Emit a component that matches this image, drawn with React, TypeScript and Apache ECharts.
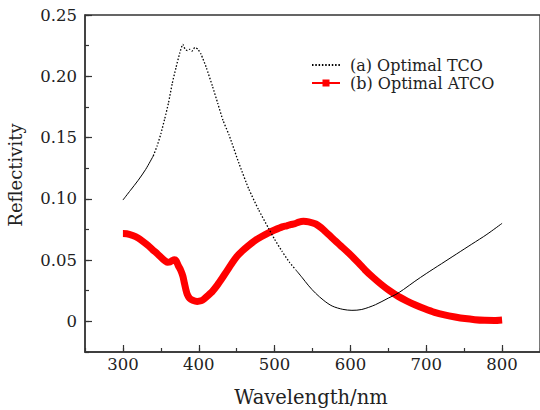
import React, { useEffect, useRef } from "react";
import * as echarts from "echarts";

// Wavelength (nm) and reflectivity
const tcoLeftX = [300, 310, 320, 330, 340];
const tcoLeftY = [0.099, 0.107, 0.115, 0.124, 0.135];
const tcoMidX = [340, 345, 350, 355, 360, 365, 370, 375, 379, 382, 385, 388, 391, 395, 399, 403, 410, 418, 425, 432, 440, 453, 466, 479, 492, 500, 510, 520, 528];
const tcoMidY = [0.135, 0.143, 0.153, 0.165, 0.178, 0.194, 0.207, 0.219, 0.226, 0.222, 0.221, 0.222, 0.2205, 0.2235, 0.222, 0.218, 0.207, 0.192, 0.178, 0.164, 0.152, 0.129, 0.108, 0.091, 0.076, 0.067, 0.057, 0.048, 0.042];
const tcoRightX = [528, 536, 545, 554, 565, 576, 590, 602, 615, 633, 650, 660, 670, 685, 700, 720, 740, 760, 780, 800];
const tcoRightY = [0.042, 0.036, 0.029, 0.023, 0.017, 0.0125, 0.0098, 0.009, 0.0097, 0.0136, 0.019, 0.022, 0.026, 0.0327, 0.039, 0.047, 0.055, 0.063, 0.071, 0.08];

const atcoX = [300, 305, 313, 320, 326, 333, 339, 346, 352, 356, 359, 362, 365, 368, 370, 373, 376, 379, 381, 383, 385, 388, 392, 398, 403, 407, 412, 418, 425, 431, 437, 444, 450, 457, 465, 475, 483, 492, 500, 510, 516, 521, 527, 532, 538, 545, 554, 565, 576, 587, 598, 609, 619, 630, 641, 652, 663, 674, 685, 698, 711, 724, 738, 751, 764, 777, 790, 800];
const atcoY = [0.0716, 0.0715, 0.07, 0.068, 0.0654, 0.062, 0.0586, 0.0548, 0.0512, 0.0492, 0.0482, 0.0484, 0.0496, 0.0502, 0.0495, 0.0455, 0.042, 0.037, 0.0314, 0.026, 0.0218, 0.0188, 0.0172, 0.0163, 0.0168, 0.0183, 0.021, 0.0245, 0.03, 0.0354, 0.041, 0.0477, 0.0528, 0.0572, 0.0615, 0.0662, 0.0692, 0.0722, 0.0745, 0.0771, 0.078, 0.079, 0.0797, 0.081, 0.0816, 0.0812, 0.0795, 0.0745, 0.068, 0.0618, 0.0556, 0.0487, 0.0422, 0.0358, 0.03, 0.0248, 0.0204, 0.0168, 0.0136, 0.0103, 0.0074, 0.0053, 0.0036, 0.0023, 0.0014, 0.0009, 0.0008, 0.0012];

const xTickLabels = [300, 400, 500, 600, 700, 800];
const yTickLabels = [0, 0.05, 0.1, 0.15, 0.2, 0.25];

const seriesNames = ["(a) Optimal TCO", "(b) Optimal ATCO"];
const xName = "Wavelength/nm";
const yName = "Reflectivity";

const zip = (xs: number[], ys: number[]) => xs.map((x, i) => [x, ys[i]]);

const FONT = "DejaVu Serif";
const RED_ICON = "path://M0,2.5H10.5V0H17.5V2.5H28V4.5H17.5V7H10.5V4.5H0Z";

export default function App() {
  const ref = useRef<HTMLDivElement>(null);
  useEffect(() => {
    if (!ref.current) return;
    const chart = echarts.init(ref.current, null, { renderer: "svg" });
    const axisColor = "#333";
    chart.setOption({
      animation: false,
      backgroundColor: "#fff",
      grid: {
        left: 85,
        top: 15,
        right: -2,
        bottom: 58,
        show: true,
        borderColor: axisColor,
        borderWidth: 1.3,
        backgroundColor: "transparent",
      },
      legend: {
        orient: "vertical",
        left: 306,
        top: 52,
        itemWidth: 28,
        itemHeight: 7,
        itemGap: 2,
        textStyle: { fontFamily: FONT, fontSize: 16, lineHeight: 16, color: "#222", padding: [0, 0, 0, 5] },
        data: [
          { name: seriesNames[0], itemStyle: { opacity: 0 } },
          { name: seriesNames[1], icon: RED_ICON, itemStyle: { borderWidth: 0, color: "#ff0000" } },
        ],
      },
      xAxis: [
        {
          type: "value",
          min: 250,
          max: 850,
          interval: 50,
          position: "bottom",
          axisLine: { show: true, onZero: false, lineStyle: { color: axisColor, width: 1.5 } },
          axisTick: { show: true, inside: true, length: 4, lineStyle: { color: axisColor, width: 1.2 } },
          axisLabel: { show: false },
          splitLine: { show: false },
        },
        {
          type: "value",
          min: 250,
          max: 850,
          interval: 50,
          position: "bottom",
          offset: 0,
          axisLine: { show: false, onZero: false },
          axisTick: { show: true, inside: true, length: 7, customValues: xTickLabels, lineStyle: { color: axisColor, width: 1.2 } },
          axisLabel: {
            show: true,
            customValues: xTickLabels,
            margin: 4,
            fontFamily: FONT,
            fontSize: 16.5,
            color: "#222",
          },
          splitLine: { show: false },
        },
      ],
      yAxis: [
        {
          type: "value",
          min: -0.025,
          max: 0.25,
          interval: 0.025,
          position: "left",
          axisLine: { show: true, onZero: false, lineStyle: { color: axisColor, width: 1.5 } },
          axisTick: { show: true, inside: true, length: 4, lineStyle: { color: axisColor, width: 1.2 } },
          axisLabel: { show: false },
          splitLine: { show: false },
        },
        {
          type: "value",
          min: -0.025,
          max: 0.25,
          interval: 0.025,
          position: "left",
          offset: 0,
          axisLine: { show: false, onZero: false },
          axisTick: { show: true, inside: true, length: 7, customValues: yTickLabels, lineStyle: { color: axisColor, width: 1.2 } },
          axisLabel: {
            show: true,
            customValues: yTickLabels,
            margin: 8,
            fontFamily: FONT,
            fontSize: 16.5,
            color: "#222",
            formatter: (v: number) => (Math.abs(v) < 1e-9 ? "0" : v.toFixed(2)),
          },
          splitLine: { show: false },
        },
      ],
      graphic: [
        {
          type: "text",
          x: 311,
          y: 397,
          style: { text: xName, fontFamily: FONT, fontSize: 19.5, fill: "#222", textAlign: "center", textVerticalAlign: "middle" },
        },
        {
          type: "text",
          x: 15,
          y: 175,
          rotation: Math.PI / 2,
          style: { text: yName, fontFamily: FONT, fontSize: 18, fill: "#222", textAlign: "center", textVerticalAlign: "middle" },
        },
      ],
      series: [
        {
          name: "tco-left",
          type: "line",
          data: zip(tcoLeftX, tcoLeftY),
          symbol: "none",
          smooth: 0.3,
          lineStyle: { color: "#000", width: 1 },
          itemStyle: { color: "#000" },
          z: 3,
        },
        {
          name: seriesNames[0],
          type: "line",
          data: zip(tcoMidX, tcoMidY),
          symbol: "none",
          smooth: 0.2,
          lineStyle: { color: "#000", width: 1.3, type: [1.5, 1.8] },
          itemStyle: { color: "#000" },
          z: 3,
        },
        {
          name: "tco-right",
          type: "line",
          data: zip(tcoRightX, tcoRightY),
          symbol: "none",
          smooth: 0.3,
          lineStyle: { color: "#000", width: 1 },
          itemStyle: { color: "#000" },
          z: 3,
        },
        {
          name: seriesNames[1],
          type: "line",
          data: zip(atcoX, atcoY),
          symbol: "rect",
          symbolSize: 6,
          showSymbol: false,
          smooth: 0.2,
          lineStyle: { color: "#ff0000", width: 7, cap: "butt", join: "round" },
          itemStyle: { color: "#ff0000" },
          z: 2,
        },
      ],
    });
    return () => chart.dispose();
  }, []);
  return <div ref={ref} style={{ width: 540, height: 410, position: "absolute", left: 0, top: 0 }} />;
}
